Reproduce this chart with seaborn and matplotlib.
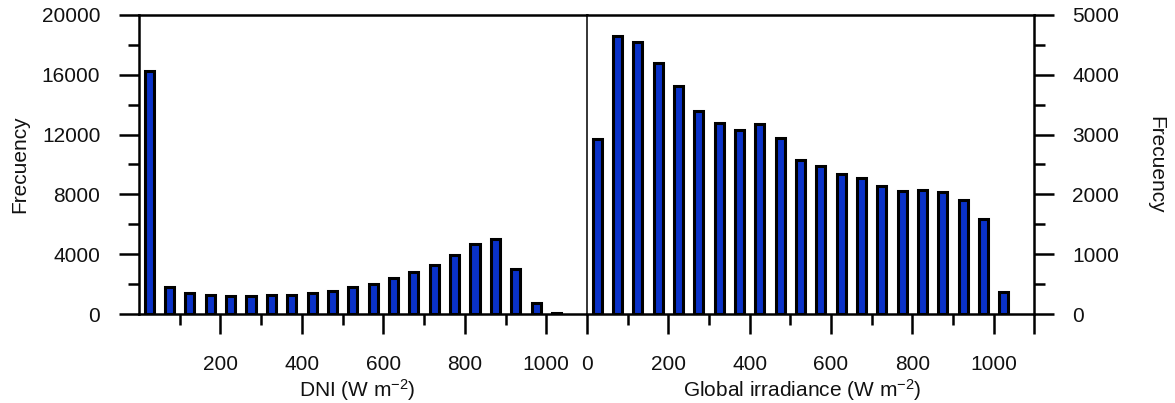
import numpy as np
import pandas as pd
import matplotlib
matplotlib.use('Agg')
import matplotlib.pyplot as plt
from matplotlib.ticker import MultipleLocator, FixedLocator
import seaborn as sns

# bin centres (W m-2), 50 W m-2 bins
bin_centers = [25, 75, 125, 175, 225, 275, 325, 375, 425, 475, 525,
               575, 625, 675, 725, 775, 825, 875, 925, 975, 1025]

dni_freq = [16250, 1790, 1380, 1290, 1220, 1180, 1240, 1270, 1430, 1540, 1830,
            1980, 2430, 2830, 3280, 3950, 4680, 4990, 2990, 710, 90]

global_freq = [2920, 4650, 4550, 4200, 3810, 3390, 3200, 3075, 3185, 2950, 2575,
               2480, 2340, 2280, 2145, 2060, 2075, 2045, 1905, 1585, 360]

dni_df = pd.DataFrame({"irr": bin_centers, "freq": dni_freq})
glob_df = pd.DataFrame({"irr": bin_centers, "freq": global_freq})

sns.set_style("white")
plt.rcParams['font.family'] = ['Liberation Sans', 'DejaVu Sans']
plt.rcParams['mathtext.default'] = 'regular'
plt.rcParams['font.size'] = 15

txt = '#111111'
bar_color = '#0a32c8'
fig = plt.figure(figsize=(11.75, 4.03), dpi=100)
W, H = 1175, 403
ax1 = fig.add_axes([139 / W, 1 - 314 / H, 448 / W, 299 / H])
ax2 = fig.add_axes([587 / W, 1 - 314 / H, 447.3 / W, 299 / H])

for ax, df in [(ax1, dni_df), (ax2, glob_df)]:
    sns.barplot(data=df, x="irr", y="freq", native_scale=True, width=0.45,
                color=bar_color, edgecolor='black', linewidth=2.2,
                saturation=1, ax=ax)
    ax.set_xlim(0, 1100)
    ax.set_facecolor('white')
    for s in ax.spines.values():
        s.set_color('black')
        s.set_linewidth(1.8)
    ax.tick_params(axis='both', which='major', length=14.4, width=1.8,
                   color='black', labelsize=15, labelcolor=txt)
    ax.tick_params(axis='both', which='minor', length=8, width=1.8,
                   color='black')
    ax.tick_params(axis='x', which='major', pad=15)
    ax.xaxis.set_minor_locator(FixedLocator([100, 300, 500, 700, 900]))

# left panel
ax1.set_ylim(0, 20000)
ax1.yaxis.set_major_locator(MultipleLocator(4000))
ax1.yaxis.set_minor_locator(MultipleLocator(2000))
ax1.xaxis.set_major_locator(FixedLocator([200, 400, 600, 800, 1000]))
ax1.spines['right'].set_visible(False)
ax1.tick_params(axis='y', which='both', left=True, right=False, pad=13.5)
ax1.tick_params(axis='x', which='both', bottom=True, top=False)
ax1.set_xlabel("DNI (W m$^{-2}$)", fontsize=15, color=txt, va='top')
ax1.xaxis.set_label_coords(0.487, -0.21)
ax1.set_ylabel("Frecuency", fontsize=15, color=txt, va='center')
ax1.yaxis.set_label_coords(-0.266, 0.5)

# right panel
ax2.set_ylim(0, 5000)
ax2.yaxis.set_major_locator(MultipleLocator(1000))
ax2.yaxis.set_minor_locator(MultipleLocator(500))
ax2.xaxis.set_major_locator(FixedLocator([0, 200, 400, 600, 800, 1000, 1100]))
ax2.set_xticklabels(['0', '200', '400', '600', '800', '1000', ''])
ax2.spines['left'].set_linewidth(1.1)
ax2.yaxis.tick_right()
ax2.yaxis.set_label_position('right')
ax2.tick_params(axis='y', which='both', left=False, right=True, pad=13)
ax2.tick_params(axis='x', which='both', bottom=True, top=False)
ax2.set_xlabel("Global irradiance (W m$^{-2}$)", fontsize=15, color=txt, va='top')
ax2.xaxis.set_label_coords(0.481, -0.21)
ax2.set_ylabel("Frecuency", fontsize=15, rotation=270, color=txt, va='center')
ax2.yaxis.set_label_coords(1.271, 0.5)

fig.savefig("out.png", dpi=100, facecolor='white')
